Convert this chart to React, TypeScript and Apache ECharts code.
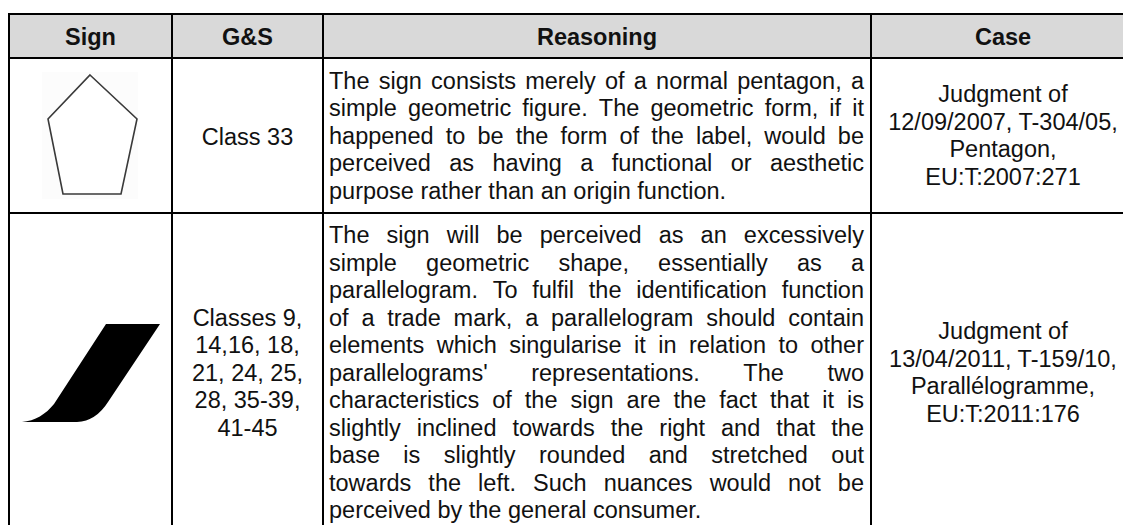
import React, { useEffect, useRef } from "react";
import * as echarts from "echarts";

// ---- Table content ----
const headers = ["Sign", "G&S", "Reasoning", "Case"];

const goodsRow1 = ["Class 33"];
const goodsRow2 = ["Classes 9,", "14,16, 18,", "21, 24, 25,", "28, 35-39,", "41-45"];

const reasoningRow1 = [
  "The sign consists merely of a normal pentagon, a",
  "simple geometric figure. The geometric form, if it",
  "happened to be the form of the label, would be",
  "perceived as having a functional or aesthetic",
  "purpose rather than an origin function.",
];
const reasoningRow2 = [
  "The sign will be perceived as an excessively",
  "simple geometric shape, essentially as a",
  "parallelogram. To fulfil the identification function",
  "of a trade mark, a parallelogram should contain",
  "elements which singularise it in relation to other",
  "parallelograms' representations. The two",
  "characteristics of the sign are the fact that it is",
  "slightly inclined towards the right and that the",
  "base is slightly rounded and stretched out",
  "towards the left. Such nuances would not be",
  "perceived by the general consumer.",
];

const caseRow1 = ["Judgment of", "12/09/2007, T-304/05,", "Pentagon,", "EU:T:2007:271"];
const caseRow2 = ["Judgment of", "13/04/2011, T-159/10,", "Parallélogramme,", "EU:T:2011:176"];

// ---- Layout ----
const COLS = [9, 172, 323, 871, 1135];
const ROWS = [14, 58, 213, 532];
const FONT_FAMILY = '"Liberation Sans", Arial, sans-serif';
const FONT_SIZE = 23.5;
const LINE_H = 27.5;
const TEXT_COLOR = "#111";

const PARALLELOGRAM_D =
  "M106,324 L160,324 L108,402 Q96,421 77,422 L22,422 C35,421 46,414 54,404 Z";

function centeredLines(lines: string[], cx: number, cy: number, bold = false) {
  const n = lines.length;
  return lines.map((t, i) => ({
    type: "text",
    x: cx,
    y: cy + (i - (n - 1) / 2) * LINE_H,
    style: {
      text: t,
      fontSize: FONT_SIZE,
      fontFamily: FONT_FAMILY,
      fontWeight: bold ? "bold" : "normal",
      fill: TEXT_COLOR,
      align: "center",
      verticalAlign: "middle",
    },
  }));
}

function justifiedLines(lines: string[], left: number, right: number, cy: number) {
  const canvas = document.createElement("canvas");
  const ctx = canvas.getContext("2d")!;
  ctx.font = `${FONT_SIZE}px "Liberation Sans"`;
  const space = ctx.measureText(" ").width;
  const n = lines.length;
  const out: any[] = [];
  lines.forEach((line, li) => {
    const y = cy + (li - (n - 1) / 2) * LINE_H;
    const words = line.split(" ");
    const widths = words.map((w) => ctx.measureText(w).width);
    const total = widths.reduce((a, b) => a + b, 0);
    const isLast = li === n - 1;
    const gap = isLast || words.length < 2 ? space : (right - left - total) / (words.length - 1);
    let x = left;
    words.forEach((w, i) => {
      out.push({
        type: "text",
        x,
        y,
        style: {
          text: w,
          fontSize: FONT_SIZE,
          fontFamily: FONT_FAMILY,
          fill: TEXT_COLOR,
          align: "left",
          verticalAlign: "middle",
        },
      });
      x += widths[i] + gap;
    });
  });
  return out;
}

export default function App() {
  const ref = useRef<HTMLDivElement>(null);

  useEffect(() => {
    if (!ref.current) return;
    echarts.graphic.registerShape(
      "parallelogramSign",
      echarts.graphic.extendPath(PARALLELOGRAM_D, {}) as any
    );
    const chart = echarts.init(ref.current, null, { renderer: "svg" });

    const colCenter = (i: number) => (COLS[i] + COLS[i + 1]) / 2;
    const rowCenter = (i: number) => (ROWS[i] + ROWS[i + 1]) / 2;
    const textLeft = COLS[2] + 6;
    const textRight = COLS[3] - 7;

    const elements: any[] = [];
    // header background
    elements.push({
      type: "rect",
      shape: { x: COLS[0], y: ROWS[0], width: COLS[4] - COLS[0], height: ROWS[1] - ROWS[0] },
      style: { fill: "#d9d9d9" },
    });
    // sign images
    elements.push({
      type: "rect",
      shape: { x: 42, y: 72, width: 96, height: 127 },
      style: { fill: "#fcfcfc" },
    });
    elements.push({
      type: "polygon",
      shape: { points: [[90, 75], [137, 119], [121, 194], [63, 194], [48, 119]] },
      style: { fill: "#ffffff", stroke: "#3a3a3a", lineWidth: 1.6 },
    });
    elements.push({
      type: "parallelogramSign",
      x: 0,
      y: 0,
      scaleX: 1,
      scaleY: 1,
      style: { fill: "#000", stroke: "none" },
    });

    // header texts
    headers.forEach((h, i) => {
      elements.push(...centeredLines([h], colCenter(i), rowCenter(0) + 0.5, true));
    });
    // row 1
    elements.push(...centeredLines(goodsRow1, colCenter(1), rowCenter(1) + 1));
    elements.push(...justifiedLines(reasoningRow1, textLeft, textRight, rowCenter(1)));
    elements.push(...centeredLines(caseRow1, colCenter(3), rowCenter(1)));
    // row 2
    elements.push(...centeredLines(goodsRow2, colCenter(1), rowCenter(2)));
    elements.push(...justifiedLines(reasoningRow2, textLeft, textRight, rowCenter(2)));
    elements.push(...centeredLines(caseRow2, colCenter(3), rowCenter(2)));

    // grid lines
    ROWS.forEach((y) => {
      elements.push({
        type: "line",
        shape: { x1: COLS[0] - 1, y1: y, x2: COLS[4] + 1, y2: y },
        style: { stroke: "#000", lineWidth: 2 },
      });
    });
    COLS.forEach((x) => {
      elements.push({
        type: "line",
        shape: { x1: x, y1: ROWS[0] - 1, x2: x, y2: ROWS[3] + 1 },
        style: { stroke: "#000", lineWidth: 2 },
      });
    });

    chart.setOption({
      animation: false,
      backgroundColor: "#ffffff",
      graphic: { elements },
    });
    return () => chart.dispose();
  }, []);

  return (
    <div
      ref={ref}
      style={{ position: "absolute", left: 0, top: 0, width: 1123, height: 525, background: "#fff" }}
    />
  );
}
